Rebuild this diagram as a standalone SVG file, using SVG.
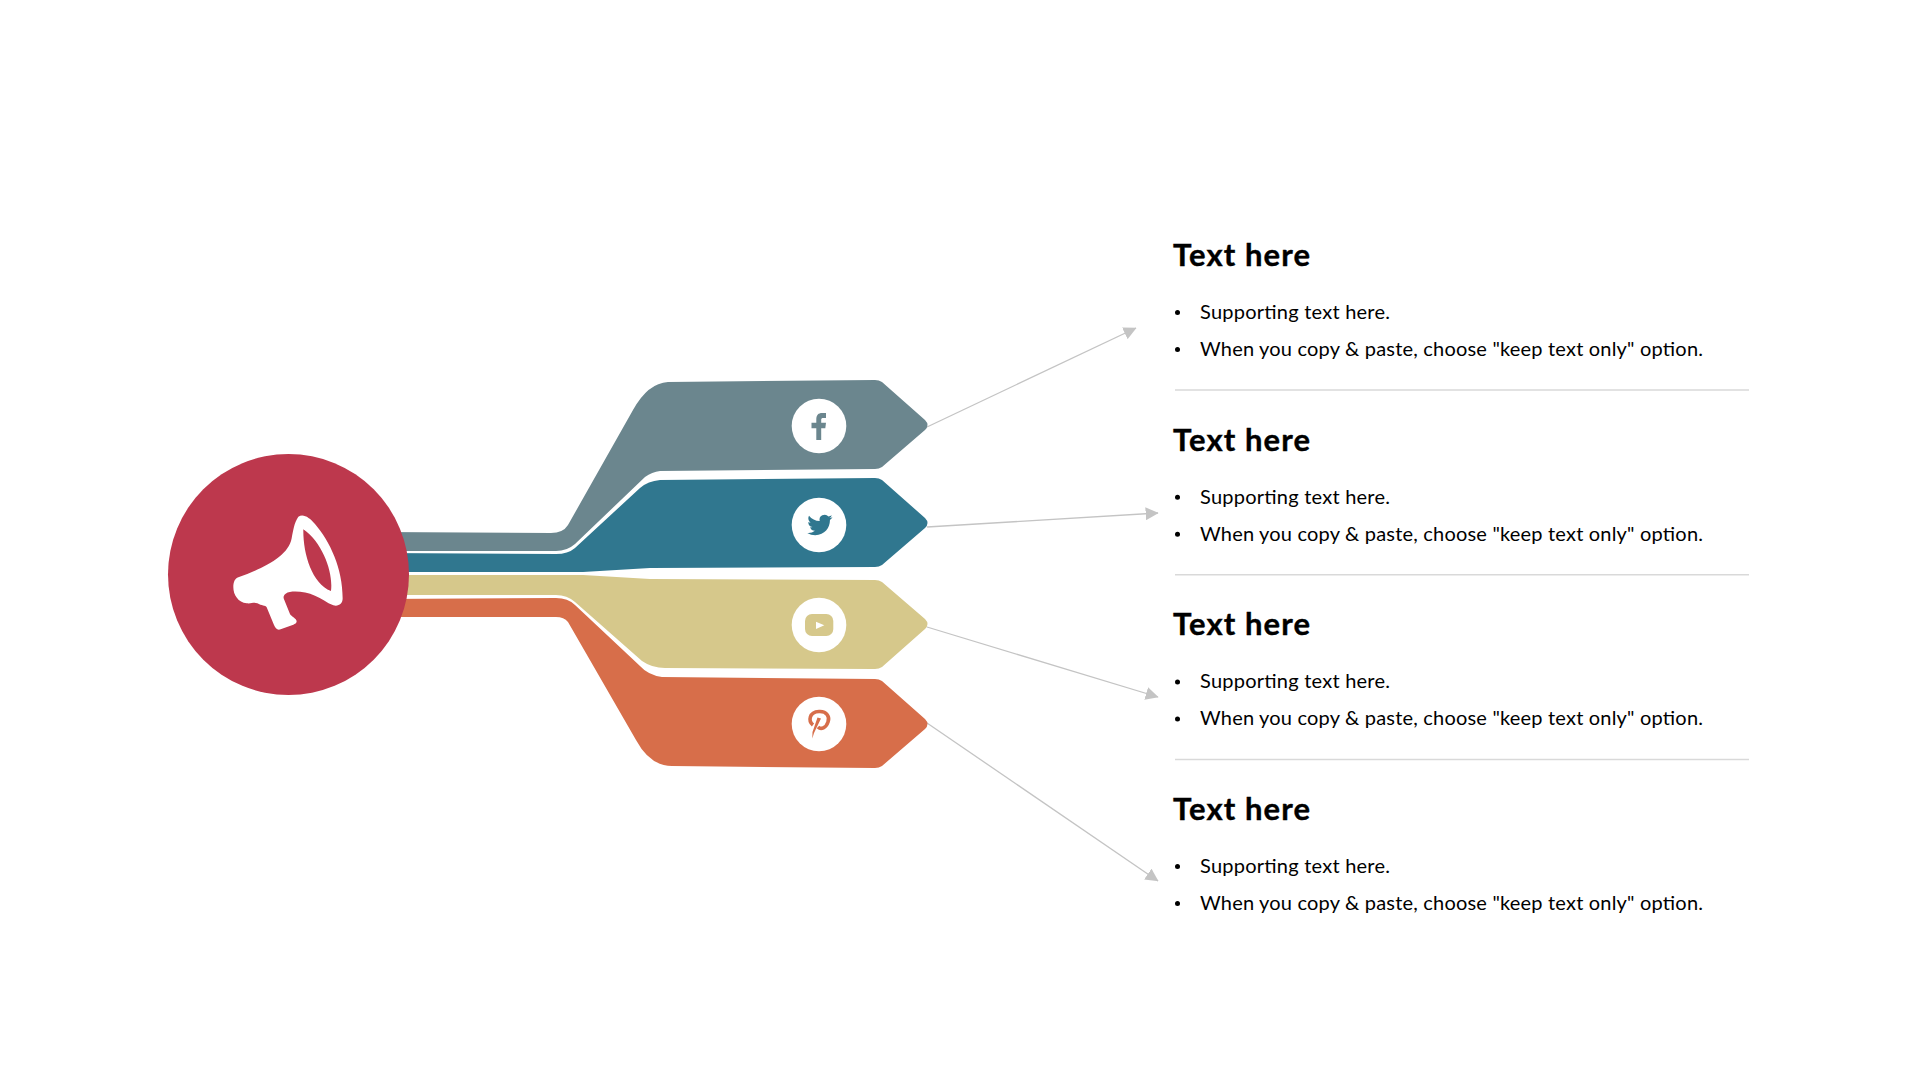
<svg xmlns="http://www.w3.org/2000/svg" width="1920" height="1080" viewBox="0 0 1920 1080">
<style>
text{font-family:"Lato","Open Sans","Liberation Sans",sans-serif;fill:#000}
.t{font-size:31px;font-weight:700;stroke:#000;stroke-width:.4}
.b{font-size:20px}
.div{stroke:#d9d9d9;stroke-width:1.5;fill:none}
.arr{stroke:#c4c4c4;stroke-width:1.3;fill:none;marker-end:url(#ah)}
.w{fill:#fff}
</style>
<defs>
<marker id="ah" viewBox="0 0 10 10" refX="9.5" refY="5" markerUnits="userSpaceOnUse" markerWidth="13" markerHeight="13" orient="auto"><path d="M0 0L10 5L0 10Z" fill="#c4c4c4"/></marker>
</defs>
<rect width="1920" height="1080" fill="#fff"/>
<g id="connectors">
<path class="arr" d="M927 427L1136 328"/>
<path class="arr" d="M927 527L1158 513"/>
<path class="arr" d="M927 627L1158 697"/>
<path class="arr" d="M927 723L1158 881"/>
</g>
<g id="ribbon-facebook">
<path fill="#6b868e" d="M380 532L551 533Q563 533 568 525L633 410Q648 383 668 382L875 380Q879 380 882 382L925 420Q930 425 925 430L882 467Q879 469 875 469L660 471Q652 472 645 477L575 544Q567 551 556 551L380 551Z"/>
<circle class="w" cx="819" cy="426" r="27.3"/>
<path fill="#6b868e" d="M816.3 440V428.3H811.5V422.7H816.3V419.5C816.3 415 818.5 413 822 413H826V418H823.5C821.7 418 821.2 418.6 821.2 419.8V422.7H826L825.3 428.3H821.2V440Z"/>
</g>
<g id="ribbon-twitter">
<path fill="#30778f" d="M380 553L556 554Q568 554 575 548L640 488Q648 481 660 480L875 478Q879 478 882 480L925 518Q930 523 925 528L882 565Q879 567 875 567L650 568L583 572L380 572Z"/>
<circle class="w" cx="819" cy="525" r="27.3"/>
<path fill="#30778f" transform="translate(807.3 512.4) scale(1.05)" d="M23.953 4.57a10 10 0 01-2.825.775 4.958 4.958 0 002.163-2.723c-.951.555-2.005.959-3.127 1.184a4.92 4.92 0 00-8.384 4.482C7.69 8.095 4.067 6.13 1.64 3.162a4.822 4.822 0 00-.666 2.475c0 1.71.87 3.213 2.188 4.096a4.904 4.904 0 01-2.228-.616v.06a4.923 4.923 0 003.946 4.827 4.996 4.996 0 01-2.212.085 4.936 4.936 0 004.604 3.417 9.867 9.867 0 01-6.102 2.105c-.39 0-.779-.023-1.17-.067a13.995 13.995 0 007.557 2.209c9.053 0 13.998-7.496 13.998-13.985 0-.21 0-.42-.015-.63A9.935 9.935 0 0024 4.59z"/>
</g>
<g id="ribbon-youtube">
<path fill="#d6c88b" d="M380 575L583 575L650 579L875 580Q879 580 882 582L925 619Q930 624 925 629L882 667Q879 669 875 669L665 668Q652 668 642 661L575 602Q567 595 556 595L380 595Z"/>
<circle class="w" cx="819" cy="625" r="27.3"/>
<rect x="805" y="614" width="28.3" height="22" rx="7" fill="#d6c88b"/>
<path class="w" d="M816 621.7L824.3 625.3L816 629Z"/>
</g>
<g id="ribbon-pinterest">
<path fill="#d76e4a" d="M380 599L556 598Q568 598 575 605L640 666Q648 675 662 677L875 679Q879 679 882 681L925 719Q930 724 925 729L882 766Q879 768 875 768L672 766Q650 766 636 740L568 622Q564 617 556 617L380 617Z"/>
<circle class="w" cx="819" cy="724" r="27.3"/>
<path fill="none" stroke="#d76e4a" stroke-width="3.6" d="M813 725C808 721 809 712 819 711.5C827 711 830 717 828 722C826 728 821 730 818 727"/>
<path fill="#d76e4a" d="M817.5 717.5L821 718.5L814 733L812.3 738.5L812.5 732Z"/>
</g>
<g id="hub">
<circle cx="288.5" cy="574.5" r="120.5" fill="#bd384d"/>
<path class="w" fill-rule="evenodd" transform="translate(220 500) scale(.3333)" d="M55 232C130 205 205 170 215 115C220 90 222 70 235 50C250 40 268 52 285 72C330 125 368 205 368 295C368 312 355 320 340 316C320 308 305 295 285 287C255 275 215 270 197 281C190 286 189 293 193 300L210 342C214 350 230 355 230 364C230 370 225 372 220 374L182 388C172 392 166 385 162 375L140 322C136 315 125 318 112 310C100 305 95 312 80 310C55 308 40 285 40 262C40 245 45 236 55 232ZM250 88C249 160 275 250 333 273C340 220 310 130 250 88Z"/>
</g>
<g id="item-1">
<text class="t" x="1173" y="266" textLength="137">Text here</text>
<circle cx="1177.5" cy="312.5" r="2.5"/><text class="b" x="1200" y="319" textLength="190">Supporting text here.</text>
<circle cx="1177.5" cy="349.5" r="2.5"/><text class="b" x="1200" y="356" textLength="503">When you copy &amp; paste, choose "keep text only" option.</text>
<path class="div" d="M1175 390H1749"/>
</g>
<g id="item-2">
<text class="t" x="1173" y="451" textLength="137">Text here</text>
<circle cx="1177.5" cy="497.3" r="2.5"/><text class="b" x="1200" y="503.7" textLength="190">Supporting text here.</text>
<circle cx="1177.5" cy="534.3" r="2.5"/><text class="b" x="1200" y="540.7" textLength="503">When you copy &amp; paste, choose "keep text only" option.</text>
<path class="div" d="M1175 574.7H1749"/>
</g>
<g id="item-3">
<text class="t" x="1173" y="635.4" textLength="137">Text here</text>
<circle cx="1177.5" cy="681.9" r="2.5"/><text class="b" x="1200" y="688.4" textLength="190">Supporting text here.</text>
<circle cx="1177.5" cy="718.9" r="2.5"/><text class="b" x="1200" y="725.4" textLength="503">When you copy &amp; paste, choose "keep text only" option.</text>
<path class="div" d="M1175 759.4H1749"/>
</g>
<g id="item-4">
<text class="t" x="1173" y="820" textLength="137">Text here</text>
<circle cx="1177.5" cy="866.6" r="2.5"/><text class="b" x="1200" y="873" textLength="190">Supporting text here.</text>
<circle cx="1177.5" cy="903.6" r="2.5"/><text class="b" x="1200" y="910" textLength="503">When you copy &amp; paste, choose "keep text only" option.</text>
</g>
</svg>
